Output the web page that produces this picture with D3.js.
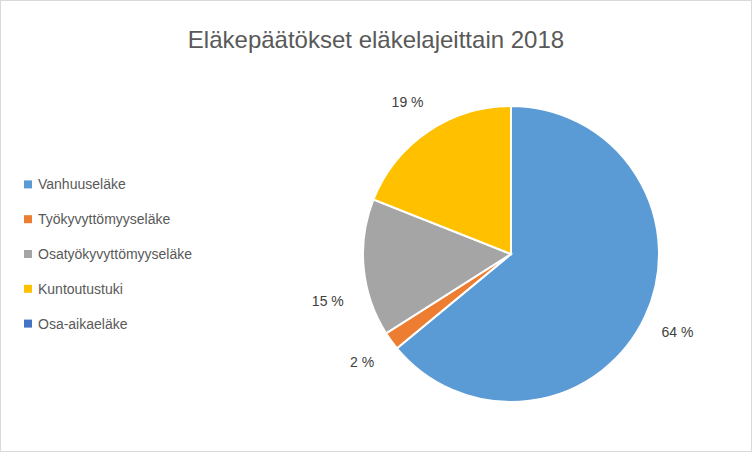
<!DOCTYPE html>
<html><head><meta charset="utf-8">
<script src="https://cdn.jsdelivr.net/npm/d3@7"></script>
<style>body{margin:0;background:#fff}</style></head>
<body><svg id="c" width="752" height="452"></svg>
<script>
const categories = ["Vanhuuseläke","Työkyvyttömyyseläke","Osatyökyvyttömyyseläke","Kuntoutustuki","Osa-aikaeläke"];
const values = [64, 2, 15, 19, 0];
const labels = ["64 %","2 %","15 %","19 %",""];
const colors = ["#5B9BD5","#ED7D31","#A5A5A5","#FFC000","#4472C4"];
const title = "Eläkepäätökset eläkelajeittain 2018";

const svg = d3.select("#c");
const font = "'Liberation Sans', Arial, sans-serif";
svg.append("rect").attr("x",0.5).attr("y",0.5).attr("width",751).attr("height",451)
  .attr("fill","#fff").attr("stroke","#D9D9D9");
svg.append("text").attr("x",376).attr("y",48).attr("text-anchor","middle")
  .attr("font-family",font).attr("font-size",24).attr("fill","#595959").text(title);

const cx=511, cy=254, r=148;
const pie = d3.pie().sort(null).value(d=>d)(values);
const arc = d3.arc().innerRadius(0).outerRadius(r);
const g = svg.append("g").attr("transform",`translate(${cx},${cy})`);
g.selectAll("path").data(pie).enter().append("path")
  .attr("d",arc).attr("fill",(d,i)=>colors[i]).attr("stroke","#fff").attr("stroke-width",2);
const lab = d3.arc().innerRadius(184).outerRadius(184);
g.selectAll("text").data(pie).enter().append("text")
  .attr("transform",(d,i)=>{const c=lab.centroid(d); if(i===2)c[1]+=30; return `translate(${c})`;})
  .attr("text-anchor","middle").attr("dy","0.35em")
  .attr("font-family",font).attr("font-size",14).attr("fill","#404040")
  .text((d,i)=>labels[i]);

const leg = svg.append("g");
const ly = d3.scaleBand().domain(categories).range([167,341]);
categories.forEach((c,i)=>{
  const y = ly(c)+ly.bandwidth()/2;
  leg.append("rect").attr("x",24).attr("y",y-4).attr("width",8).attr("height",8).attr("fill",colors[i]);
  leg.append("text").attr("x",38).attr("y",y).attr("dy","0.35em")
    .attr("font-family",font).attr("font-size",14).attr("fill","#595959").text(c);
});
</script></body></html>
